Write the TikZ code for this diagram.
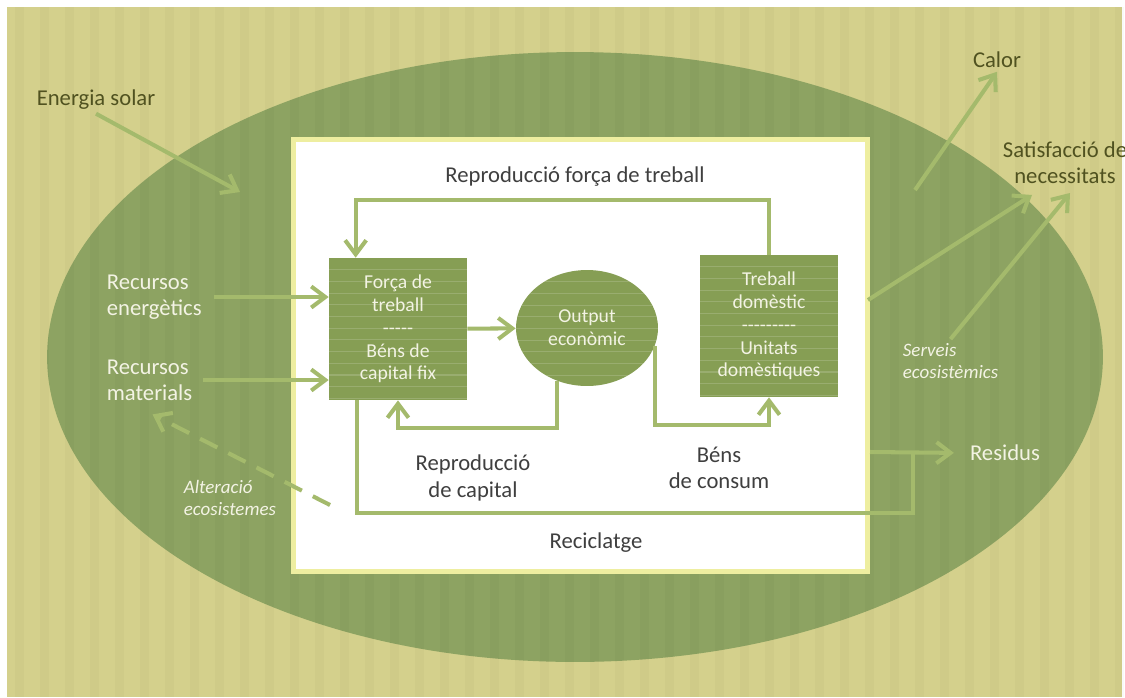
\documentclass[tikz,border=0pt]{standalone}
\usepackage{fontspec}
\setmainfont{Carlito}
\usetikzlibrary{arrows.meta, calc, shapes.geometric}
\definecolor{paper}{RGB}{212,208,140}
\definecolor{leaf}{RGB}{141,163,98}
\definecolor{moss}{RGB}{134,158,84}
\definecolor{sprout}{RGB}{164,186,108}
\definecolor{rim}{RGB}{238,238,160}
\definecolor{ink}{RGB}{63,63,63}
\definecolor{olive}{RGB}{80,82,32}
\definecolor{chalk}{RGB}{243,243,228}
\tikzset{
  weave/.style={path picture={\foreach \k in {1, ..., 12}{\draw [white, opacity=0.16, line width=0.6pt] ([yshift={-\k*0.234cm}]path picture bounding box.north west) -- ([yshift={-\k*0.234cm}]path picture bounding box.north east);}}},
  blk/.style={rectangle, fill=moss, weave, minimum width=2.76cm, minimum height=2.84cm, inner sep=0pt, text=chalk, align=center, font=\fontsize{11.2}{13}\selectfont},
  oval/.style={ellipse, fill=moss, weave, minimum width=2.84cm, minimum height=2.32cm, inner sep=0pt, text=chalk, align=center, font=\fontsize{11.2}{13}\selectfont},
  lbl/.style={align=center, inner sep=2pt, font=\fontsize{12.9}{15}\selectfont},
  ital/.style={align=left, inner sep=2pt, text=chalk, font=\fontsize{10.8}{13}\selectfont\itshape},
  flow/.style={draw=sprout, line width=2.3pt},
  dashflow/.style={flow, dash pattern=on 11pt off 7pt}
}
\begin{document}
\begin{tikzpicture}[x=0.02cm, y=-0.02cm, >={Straight Barb[length=8pt, width=12pt]}]
\useasboundingbox (0, 0) rectangle (1125, 697);
\fill [white] (0, 0) rectangle (1125, 697);
\fill [paper] (7, 7) rectangle (1122, 697);
\fill [leaf] (575, 357) ellipse [x radius=10.56cm, y radius=6.1cm];
\foreach \x in {15, 40, ..., 1115}{\fill [black, opacity=0.025] (\x, 7) rectangle ++(9, 690);}
\draw [rim, line width=2.8pt, fill=white] (293.5, 139.5) rectangle (867.5, 571.5);

\node [blk] (frc) at (398, 329) {Força de\\treball\\-{}-{}-{}-{}-\\Béns de\\capital fix};
\node [oval] (out) at (587, 328) {Output\\econòmic};
\node [blk] (trb) at (769, 326) {Treball\\domèstic\\-{}-{}-{}-{}-{}-{}-{}-{}-\\Unitats\\domèstiques};

\node [lbl, text=olive] (sol) at (96, 100) {Energia solar};
\node [lbl, text=olive] (calor) at (997, 60) {Calor};
\node [lbl, text=olive] (satis) at (1065, 163) {Satisfacció de\\necessitats};
\node [lbl, text=chalk, align=left, anchor=west] (recen) at (103, 297) {Recursos\\energètics};
\node [lbl, text=chalk, align=left, anchor=west] (recma) at (103, 380) {Recursos\\materials};
\node [ital, anchor=west] (alt) at (180, 498) {Alteració\\ecosistemes};
\node [ital, anchor=west] (serv) at (899, 361) {Serveis\\ecosistèmics};
\node [lbl, text=chalk] (resid) at (1005, 453) {Residus};
\node [lbl, text=ink] (rft) at (575, 177) {Reproducció força de treball};
\node [lbl, text=ink] (rcap) at (473, 478) {Reproducció\\de capital};
\node [lbl, text=ink] (bcons) at (719, 468) {Béns\\de consum};
\node [lbl, text=ink] (recic) at (596, 543) {Reciclatge};

\coordinate (frcin) at ($(frc.north west)+(27, 0)$);
\coordinate (frcout) at ($(frc.south west)+(28, 0)$);
\coordinate (capturn) at ($(frc.south)+(0, 28)$);
\coordinate (conturn) at ($(trb.south)+(0, 28)$);
\coordinate (reccorner) at (913, 513);
\coordinate (resin) at (870, 452);
\coordinate (solend) at (240, 192);
\coordinate (heat) at (915, 190);
\coordinate (trbout) at (868, 300);
\coordinate (alttail) at (330, 505);

\draw [flow, ->] (trb.north) -- ++(0, -55) -| (frcin);
\draw [flow, ->] (frc) -- (out);
\draw [flow, ->] (out.240) |- (capturn) -- (frc.south);
\draw [flow, ->] (out.-15) |- (conturn) -- (trb.south);
\draw [flow] (frcout) |- (reccorner) -- (reccorner |- resin);
\draw [flow, ->, shorten >=7pt] (resin) -- (resid.west);
\draw [flow, ->, shorten <=5pt] (recen.east) -- (recen.east -| frc.west);
\draw [flow, ->, shorten <=4pt] (recma.east) -- (recma.east -| frc.west);
\draw [flow, ->] (sol.south) -- (solend);
\draw [flow, ->] (heat) -- (calor.south);
\draw [flow, ->] (trbout) -- ($(satis.south)+(-33, 7)$);
\draw [flow, ->] (serv.north) -- ($(satis.south)+(5, 5)$);
\draw [dashflow, ->] (alttail) -- ($(recma.south)+(3, 10)$);
\end{tikzpicture}
\end{document}
